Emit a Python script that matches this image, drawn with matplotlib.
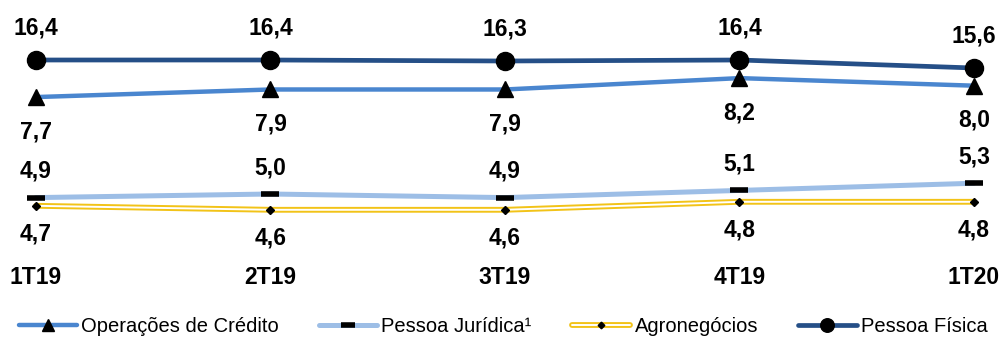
import matplotlib
matplotlib.use("Agg")
import matplotlib.pyplot as plt
from matplotlib.legend_handler import HandlerTuple

plt.rcParams['font.family'] = ['Liberation Sans', 'DejaVu Sans']

# Dados
trimestres = ['1T19', '2T19', '3T19', '4T19', '1T20']
operacoes_credito = [7.7, 7.9, 7.9, 8.2, 8.0]
pessoa_juridica = [4.9, 5.0, 4.9, 5.1, 5.3]
agronegocios = [4.7, 4.6, 4.6, 4.8, 4.8]
pessoa_fisica = [16.4, 16.4, 16.3, 16.4, 15.6]


def fmt(v):
    return f"{v:.1f}".replace('.', ',')


def create_chart():
    fig = plt.figure(figsize=(10.06, 3.38), dpi=100)
    x = list(range(len(trimestres)))
    xlim = (-0.1535, 4.1365)

    def new_ax(ylim):
        ax = fig.add_axes([0, 0, 1, 1])
        ax.set_xlim(*xlim)
        ax.set_ylim(*ylim)
        ax.axis('off')
        ax.patch.set_alpha(0)
        return ax

    def labels(ax, vals, dy):
        for xi, v in zip(x, vals):
            ax.annotate(fmt(v), xy=(xi, v), xytext=(0, dy), textcoords='offset points',
                        ha='center', va='center', fontsize=16.5, fontweight='bold')

    # Operações de Crédito
    ax1 = new_ax((1.343, 10.261))
    l1, = ax1.plot(x, operacoes_credito, color='#4A86CF', lw=3.2, marker='^',
                   markersize=12, markerfacecolor='black', markeredgecolor='black',
                   solid_capstyle='round')
    labels(ax1, operacoes_credito, -25)

    # Pessoa Jurídica
    ax2 = new_ax((0.989, 10.404))
    l2, = ax2.plot(x, pessoa_juridica, color='#9DBEE6', lw=3.6, marker='_',
                   markersize=13, markeredgewidth=4, markeredgecolor='black',
                   solid_capstyle='round')
    labels(ax2, pessoa_juridica, 19)

    # Agronegócios (linha dupla)
    ax3 = new_ax((1.395, 9.845))
    l3a, = ax3.plot(x, agronegocios, color='#F2C318', lw=4.2, solid_capstyle='round')
    l3b, = ax3.plot(x, agronegocios, color='white', lw=1.4, solid_capstyle='round')
    l3c, = ax3.plot(x, agronegocios, ls='none', marker='D', markersize=4.5,
                    color='black')
    labels(ax3, agronegocios, -20)

    # Pessoa Física
    ax4 = new_ax((-11.4, 22.4))
    l4, = ax4.plot(x, pessoa_fisica, color='#254F87', lw=3.4, marker='o',
                   markersize=13, markerfacecolor='black', markeredgecolor='black',
                   solid_capstyle='round')
    labels(ax4, pessoa_fisica, 23)

    # Eixo x (trimestres)
    for xi, t in zip(x, trimestres):
        ax4.text(xi, 1 - 278 / 338, t, transform=ax4.get_xaxis_transform(),
                 ha='center', va='center', fontsize=16.5, fontweight='bold')

    # Legenda
    fig.legend([l1, l2, (l3a, l3b, l3c), l4],
               ['Operações de Crédito', 'Pessoa Jurídica¹', 'Agronegócios', 'Pessoa Física'],
               handler_map={tuple: HandlerTuple(ndivide=1)},
               loc='center', bbox_to_anchor=(0.5, 1 - 327 / 338), ncol=4,
               frameon=False, fontsize=14.5, handlelength=2.9, handletextpad=0.2,
               columnspacing=2.0, borderpad=0, borderaxespad=0, markerscale=0.75)

    fig.savefig('out.png', dpi=100)


if __name__ == '__main__':
    create_chart()
